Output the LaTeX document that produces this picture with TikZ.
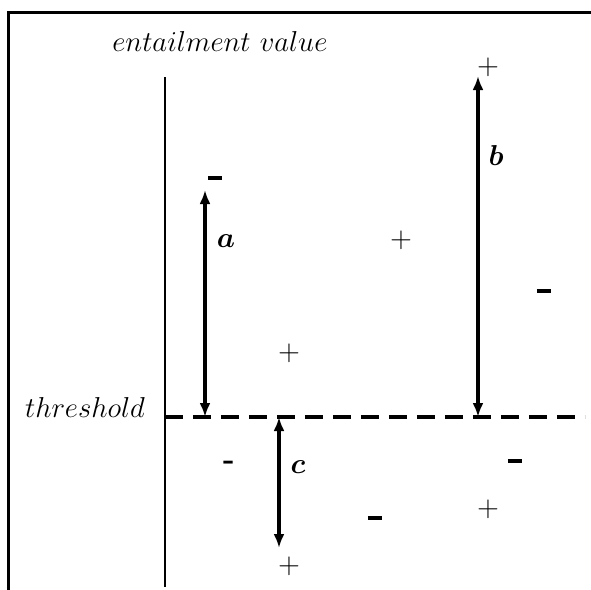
\documentclass[tikz,border=0pt]{standalone}
\usepackage{bm}
\usetikzlibrary{arrows.meta}
\begin{document}
\begin{tikzpicture}[x=0.5pt,y=-0.5pt,
  lbl/.style={inner sep=0pt,font=\fontsize{15.5}{19}\selectfont},
  sym/.style={inner sep=0pt,font=\fontsize{15}{18}\selectfont},
  neg/.style={inner sep=0pt},
  gap/.style={line width=1.7pt,{Latex[length=7pt,width=5.5pt]}-{Latex[length=7pt,width=5.5pt]}},
  frame/.style={line width=1.5pt},
  axis/.style={line width=1.1pt},
  thr/.style={line width=1.6pt,dash pattern=on 9pt off 5pt}]
\useasboundingbox (0,0) rectangle (591,590);
% frame
\coordinate (fbl) at (8.5,591);
\coordinate (ftl) at (8.5,12);
\coordinate (ftr) at (592,12);
\draw[frame] (fbl) -- (ftl) -- (ftr);
% axis and threshold
\coordinate (axt) at (165,77);
\coordinate (axb) at (165,587);
\draw[axis] (axt) -- (axb);
\coordinate (th0) at (165,417);
\coordinate (th1) at (585,417);
\draw[thr] (th0) -- (th1);
% texts
\node[lbl,font=\fontsize{15.2}{18}\selectfont] (ev) at (220,41) {$entailment\ value$};
\node[lbl,font=\fontsize{15.8}{19}\selectfont] (th) at (85,407) {$threshold$};
% arrows
\coordinate (a0) at (205,417);
\coordinate (a1) at (205,190);
\draw[gap] (a0) -- (a1);
\coordinate (b0) at (478,417);
\coordinate (b1) at (478,76);
\draw[gap] (b0) -- (b1);
\coordinate (c0) at (279,417);
\coordinate (c1) at (279,548);
\draw[gap] (c0) -- (c1);
\node[lbl] (la) at (226,241) {$\bm{a}$};
\node[lbl] (lb) at (496,155) {$\bm{b}$};
\node[lbl] (lc) at (298,467) {$\bm{c}$};
% plus signs
\node[sym] (p1) at (488,67) {$+$};
\node[sym] (p2) at (401,240) {$+$};
\node[sym] (p3) at (289,353) {$+$};
\node[sym] (p4) at (289,566) {$+$};
\node[sym] (p5) at (488,509) {$+$};
% minus signs
\node[neg] (m1) at (215,178) {\rule{7pt}{2pt}};
\node[neg] (m2) at (544,291) {\rule{7pt}{2pt}};
\node[neg] (m3) at (515,461) {\rule{7pt}{2pt}};
\node[neg] (m4) at (375,518) {\rule{7pt}{2pt}};
\node[lbl] (h1) at (229,465) {\textbf{-}};
\end{tikzpicture}
\end{document}
